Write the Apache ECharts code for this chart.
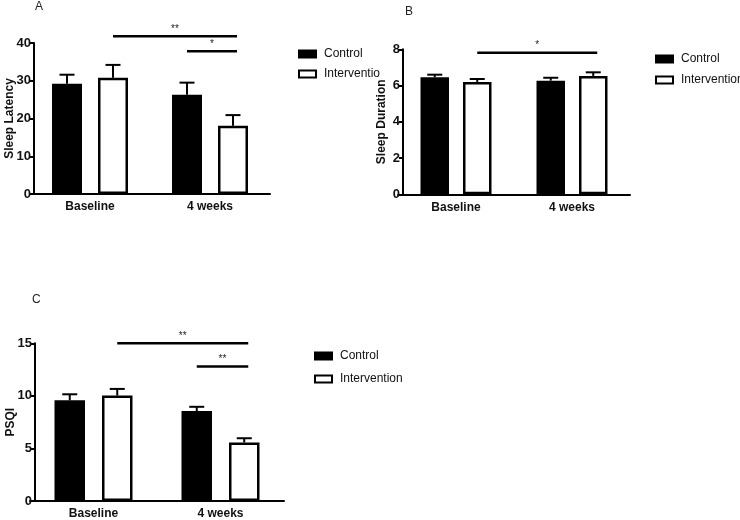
<!DOCTYPE html>
<html>
<head>
<meta charset="utf-8">
<script src="https://cdn.jsdelivr.net/npm/echarts@6/dist/echarts.min.js"></script>
<style>
html,body{margin:0;padding:0;background:#fff;}
#chart{width:740px;height:520px;}
</style>
</head>
<body>
<div id="chart"></div>
<script>
// ---------- data ----------
const categories = ['Baseline', '4 weeks'];
const groupNames = ['Control', 'Intervention'];

const latencyControl = [29.2, 26.3];
const latencyControlSem = [2.4, 3.2];
const latencyIntervention = [30.8, 18.1];
const latencyInterventionSem = [3.4, 2.8];

const durationControl = [6.46, 6.27];
const durationControlSem = [0.14, 0.16];
const durationIntervention = [6.2, 6.53];
const durationInterventionSem = [0.16, 0.2];

const psqiControl = [9.58, 8.55];
const psqiControlSem = [0.57, 0.41];
const psqiIntervention = [10.03, 5.57];
const psqiInterventionSem = [0.63, 0.4];

// significance brackets: [fromCategory, fromGroup, toCategory, toGroup, yValue]
const latencySig = [[0, 1, 1, 1, 41.8], [1, 0, 1, 1, 37.8]];
const latencySigLabels = ['**', '*'];
const durationSig = [[0, 1, 1, 1, 7.81]];
const durationSigLabels = ['*'];
const psqiSig = [[0, 1, 1, 1, 15.0], [1, 0, 1, 1, 12.8]];
const psqiSigLabels = ['**', '**'];

const yTicks = {latency: {max: 40, interval: 10}, duration: {max: 8, interval: 2}, psqi: {max: 15, interval: 5}};

// ---------- layout ----------
const panels = [
  {key: 'latency', letter: 'A', yName: 'Sleep Latency', grid: {left: 30, top: 43, width: 240, height: 151},
   yOffset: -4, barWidth: 30, gap: 16, nameGap: 18.5, title: {left: 35, top: 1},
   legend: {left: 298, top: 48, itemGap: 8, textWidth: 61},
   ctrl: latencyControl, ctrlSem: latencyControlSem, intv: latencyIntervention, intvSem: latencyInterventionSem,
   sig: latencySig, sigLabels: latencySigLabels},
  {key: 'duration', letter: 'B', yName: 'Sleep Duration', grid: {left: 398, top: 49.3, width: 232, height: 145},
   yOffset: -5, barWidth: 28.5, gap: 14, nameGap: 15, title: {left: 405, top: 6},
   legend: {left: 655, top: 53, itemGap: 9, textWidth: 100},
   ctrl: durationControl, ctrlSem: durationControlSem, intv: durationIntervention, intvSem: durationInterventionSem,
   sig: durationSig, sigLabels: durationSigLabels},
  {key: 'psqi', letter: 'C', yName: 'PSQI', grid: {left: 30, top: 343.3, width: 254, height: 159},
   yOffset: -5, barWidth: 30.5, gap: 17, nameGap: 18.5, title: {left: 32, top: 294},
   legend: {left: 314, top: 350, itemGap: 11, textWidth: 100},
   ctrl: psqiControl, ctrlSem: psqiControlSem, intv: psqiIntervention, intvSem: psqiInterventionSem,
   sig: psqiSig, sigLabels: psqiSigLabels}
];

const FONT = 'Liberation Sans, Arial, Helvetica, sans-serif';
const grids = [], xAxes = [], yAxes = [], series = [], titles = [], legends = [];

panels.forEach((p, i) => {
  const half = (p.barWidth + p.gap) / 2;
  grids.push(Object.assign({containLabel: false}, p.grid));
  titles.push({text: p.letter, left: p.title.left, top: p.title.top, padding: 0,
    textStyle: {fontFamily: FONT, fontSize: 12, fontWeight: 'normal', color: '#222'}});
  legends.push({data: groupNames, orient: 'vertical', left: p.legend.left, top: p.legend.top, padding: 0,
    icon: 'rect', itemWidth: 17, itemHeight: 7, itemGap: p.legend.itemGap, selectedMode: false,
    textStyle: {fontFamily: FONT, fontSize: 12, color: '#111', padding: [0, 0, 0, 3],
      width: p.legend.textWidth, overflow: 'truncate', ellipsis: ''}});
  xAxes.push({type: 'category', gridIndex: i, data: categories,
    axisLine: {lineStyle: {color: '#000', width: 2}},
    axisTick: {alignWithLabel: true, length: 5, lineStyle: {color: '#000', width: 2}},
    axisLabel: {fontFamily: FONT, fontSize: 12, fontWeight: 'bold', color: '#111', margin: 7}});
  const yt = yTicks[p.key];
  yAxes.push({type: 'value', gridIndex: i, min: 0, max: yt.max, interval: yt.interval, offset: p.yOffset,
    name: p.yName, nameLocation: 'middle', nameGap: p.nameGap, nameMoveOverlap: false,
    nameTextStyle: {fontFamily: FONT, fontSize: 12, fontWeight: 'bold', color: '#111'},
    splitLine: {show: false},
    axisLine: {show: true, lineStyle: {color: '#000', width: 2}},
    axisTick: {show: true, length: 4, lineStyle: {color: '#000', width: 2}},
    axisLabel: {fontFamily: FONT, fontSize: 13, fontWeight: 'bold', color: '#111', margin: 3}});

  series.push({name: 'Control', type: 'bar', xAxisIndex: i, yAxisIndex: i, data: p.ctrl,
    barWidth: p.barWidth, barGap: (p.gap / p.barWidth * 100) + '%',
    itemStyle: {color: '#000', borderColor: '#000', borderWidth: 2}});
  series.push({name: 'Intervention', type: 'bar', xAxisIndex: i, yAxisIndex: i, data: p.intv,
    barWidth: p.barWidth, barGap: (p.gap / p.barWidth * 100) + '%',
    itemStyle: {color: '#fff', borderColor: '#000', borderWidth: 2.5}});

  // error bars (upper half, GraphPad style)
  [[p.ctrl, p.ctrlSem, -half], [p.intv, p.intvSem, half]].forEach(([mean, sem, off]) => {
    series.push({type: 'custom', xAxisIndex: i, yAxisIndex: i, z: 5, silent: true,
      data: mean.map((m, k) => [k, m, sem[k]]), encode: {x: 0, y: 1},
      renderItem: (params, api) => {
        const c = api.value(0), m = api.value(1), s = api.value(2);
        const base = api.coord([c, m]);
        const top = api.coord([c, m + s]);
        const x = base[0] + off;
        const capHalf = 7.5;
        return {type: 'group', children: [
          {type: 'line', shape: {x1: x, y1: base[1], x2: x, y2: top[1]}, style: {stroke: '#000', lineWidth: 2}},
          {type: 'line', shape: {x1: x - capHalf, y1: top[1], x2: x + capHalf, y2: top[1]}, style: {stroke: '#000', lineWidth: 2}}
        ]};
      }});
  });

  // significance lines
  series.push({type: 'custom', xAxisIndex: i, yAxisIndex: i, z: 6, silent: true, clip: false,
    data: p.sig, encode: {x: 0, y: 4},
    renderItem: (params, api) => {
      const a = api.coord([api.value(0), api.value(4)]);
      const b = api.coord([api.value(2), api.value(4)]);
      const x1 = a[0] + (api.value(1) ? half : -half);
      const x2 = b[0] + (api.value(3) ? half : -half) + 4;
      const y = a[1];
      return {type: 'group', children: [
        {type: 'line', shape: {x1: x1, y1: y, x2: x2, y2: y}, style: {stroke: '#000', lineWidth: 2.5}},
        {type: 'text', style: {text: p.sigLabels[params.dataIndex], x: (x1 + x2) / 2, y: y - 2,
          align: 'center', verticalAlign: 'bottom', font: '10px ' + FONT, fill: '#222'}}
      ]};
    }});
});

const chart = echarts.init(document.getElementById('chart'), null, {renderer: 'canvas'});
chart.setOption({
  animation: false,
  backgroundColor: '#fff',
  title: titles,
  legend: legends,
  grid: grids,
  xAxis: xAxes,
  yAxis: yAxes,
  series: series
});
</script>
</body>
</html>
